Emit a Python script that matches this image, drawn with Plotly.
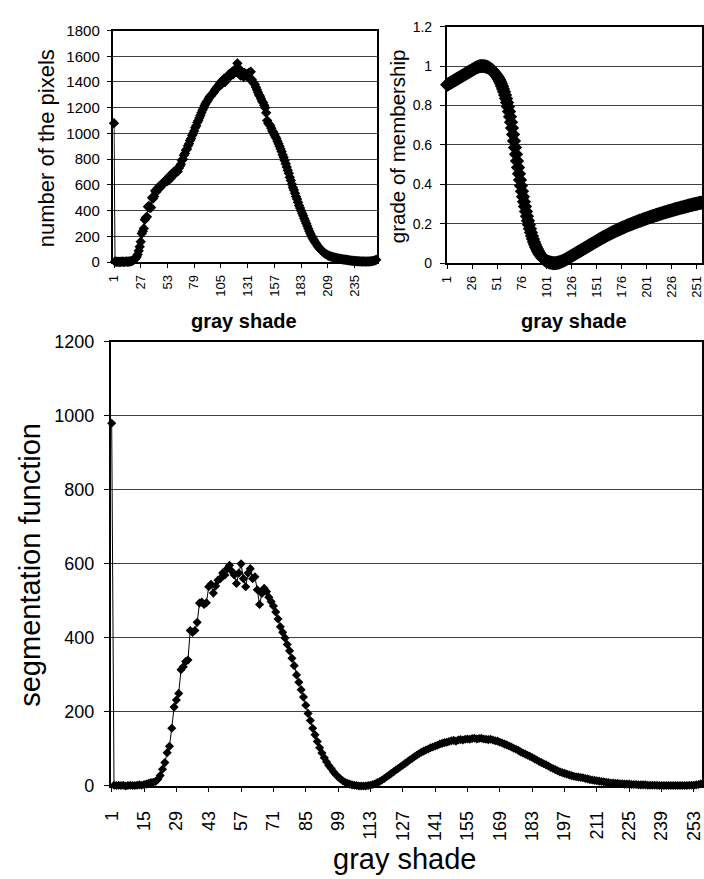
import plotly.graph_objects as go

# ---------------- data ----------------
gray_shade = list(range(1, 257))

pixels = [
    1080, 5, 3, 2, 4, 1, 3, 2, 5, 3, 2, 4, 6, 3, 5, 4,
    7, 9, 12, 16, 22, 30, 42, 60, 88, 120, 158, 222, 240, 262, 330, 345,
    352, 430, 437, 420, 425, 500, 495, 510, 555, 545, 560, 575, 590, 580, 600, 610,
    620, 615, 635, 640, 630, 655, 670, 650, 680, 690, 700, 685, 710, 720, 705, 730,
    745, 760, 790, 800, 830, 845, 870, 880, 905, 920, 945, 960, 985, 1000, 1020, 1045,
    1060, 1085, 1100, 1120, 1140, 1160, 1180, 1195, 1215, 1230, 1245, 1255, 1270, 1285, 1290, 1300,
    1310, 1320, 1335, 1345, 1360, 1355, 1375, 1390, 1400, 1385, 1410, 1425, 1400, 1430, 1440, 1450,
    1460, 1445, 1470, 1480, 1460, 1490, 1500, 1480, 1545, 1470, 1500, 1450, 1480, 1460, 1440, 1470,
    1450, 1460, 1440, 1470, 1430, 1480, 1420, 1400, 1390, 1380, 1360, 1340, 1320, 1300, 1290, 1270,
    1250, 1240, 1220, 1200, 1160, 1100, 1080, 1070, 1060, 1040, 1020, 1010, 990, 975, 960, 940,
    920, 900, 880, 860, 835, 815, 790, 765, 740, 715, 690, 660, 635, 605, 580, 560,
    535, 510, 490, 465, 440, 420, 400, 380, 360, 340, 320, 300, 280, 260, 240, 222,
    205, 190, 175, 162, 150, 138, 125, 115, 106, 98, 90, 82, 75, 68, 63, 58,
    54, 50, 47, 44, 41, 38, 36, 34, 32, 30, 28, 27, 25, 24, 22, 21,
    20, 19, 18, 16, 15, 14, 13, 12, 11, 10, 9, 9, 8, 7, 7, 6,
    6, 5, 5, 6, 5, 4, 5, 6, 5, 6, 7, 8, 10, 12, 14, 18,
]

membership = [
    0.905, 0.908, 0.911, 0.914, 0.917, 0.920, 0.923, 0.926, 0.929, 0.932, 0.935, 0.938, 0.941, 0.944, 0.947, 0.950,
    0.953, 0.956, 0.959, 0.962, 0.965, 0.968, 0.971, 0.974, 0.977, 0.980, 0.983, 0.986, 0.989, 0.992, 0.994, 0.996,
    0.998, 0.999, 1.000, 1.000, 1.000, 0.999, 0.998, 0.997, 0.995, 0.993, 0.990, 0.987, 0.983, 0.979, 0.974, 0.968,
    0.962, 0.955, 0.948, 0.940, 0.931, 0.921, 0.910, 0.898, 0.884, 0.869, 0.853, 0.835, 0.815, 0.793, 0.769, 0.743,
    0.715, 0.685, 0.653, 0.620, 0.586, 0.552, 0.518, 0.485, 0.453, 0.422, 0.392, 0.364, 0.337, 0.311, 0.287, 0.262,
    0.238, 0.215, 0.194, 0.174, 0.155, 0.138, 0.122, 0.107, 0.094, 0.082, 0.071, 0.061, 0.052, 0.044, 0.037, 0.031,
    0.025, 0.020, 0.016, 0.012, 0.009, 0.007, 0.005, 0.003, 0.002, 0.001, 0.000, 0.000, 0.000, 0.000, 0.001, 0.002,
    0.003, 0.005, 0.007, 0.009, 0.011, 0.014, 0.016, 0.019, 0.022, 0.025, 0.028, 0.031, 0.034, 0.037, 0.040, 0.043,
    0.046, 0.049, 0.052, 0.055, 0.058, 0.061, 0.064, 0.067, 0.070, 0.073, 0.076, 0.079, 0.082, 0.085, 0.088, 0.091,
    0.094, 0.097, 0.100, 0.103, 0.106, 0.109, 0.112, 0.115, 0.118, 0.121, 0.124, 0.127, 0.130, 0.132, 0.135, 0.138,
    0.141, 0.143, 0.146, 0.149, 0.151, 0.154, 0.156, 0.159, 0.161, 0.164, 0.166, 0.168, 0.171, 0.173, 0.175, 0.178,
    0.180, 0.182, 0.184, 0.186, 0.189, 0.191, 0.193, 0.195, 0.197, 0.199, 0.201, 0.203, 0.205, 0.207, 0.209, 0.211,
    0.213, 0.215, 0.216, 0.218, 0.220, 0.222, 0.224, 0.226, 0.227, 0.229, 0.231, 0.233, 0.234, 0.236, 0.238, 0.239,
    0.241, 0.243, 0.244, 0.246, 0.248, 0.249, 0.251, 0.252, 0.254, 0.256, 0.257, 0.259, 0.260, 0.262, 0.263, 0.265,
    0.266, 0.268, 0.269, 0.271, 0.272, 0.274, 0.275, 0.276, 0.278, 0.279, 0.281, 0.282, 0.283, 0.285, 0.286, 0.287,
    0.289, 0.290, 0.291, 0.293, 0.294, 0.295, 0.296, 0.298, 0.299, 0.300, 0.301, 0.302, 0.304, 0.305, 0.306, 0.307,
]

segmentation = [
    980, 2, 1, 2, 1, 2, 0, 1, 2, 1, 1, 2, 3, 2, 4, 5,
    7, 9, 10, 12, 18, 28, 45, 63, 90, 107, 156, 213, 232, 250, 314, 322,
    336, 340, 420, 415, 420, 442, 494, 497, 490, 495, 538, 545, 521, 540, 556, 560,
    575, 570, 587, 596, 580, 570, 547, 575, 600, 560, 538, 575, 587, 560, 565, 530,
    490, 520, 534, 525, 510, 498, 486, 470, 451, 430, 415, 400, 382, 365, 345, 325,
    300, 280, 260, 240, 218, 196, 177, 156, 138, 120, 103, 89, 76, 65, 55, 47,
    38, 31, 24, 19, 14, 10, 7, 5, 3, 2, 1, 0, 0, 0, 0, 1,
    2, 4, 6, 9, 12, 16, 20, 25, 29, 34, 38, 43, 47, 52, 56, 61,
    65, 70, 74, 79, 83, 87, 91, 94, 97, 100, 103, 105, 108, 110, 113, 115,
    117, 118, 120, 122, 123, 121, 124, 125, 124, 126, 127, 126, 128, 129, 127, 128,
    129, 127, 126, 125, 126, 124, 122, 121, 118, 116, 113, 111, 108, 105, 102, 99,
    96, 92, 89, 86, 83, 80, 77, 73, 70, 66, 63, 60, 57, 54, 50, 47,
    44, 41, 38, 36, 34, 32, 30, 28, 26, 25, 24, 23, 22, 20, 19, 17,
    16, 15, 14, 13, 12, 11, 10, 9, 8, 8, 7, 7, 6, 6, 5, 5,
    5, 4, 4, 4, 3, 3, 3, 3, 2, 2, 2, 2, 2, 1, 1, 1,
    1, 1, 1, 1, 1, 1, 1, 1, 1, 1, 2, 2, 2, 3, 4, 6,
]

ticks_pixels = [1, 27, 53, 79, 105, 131, 157, 183, 209, 235]
ticks_membership = [1, 26, 51, 76, 101, 126, 151, 176, 201, 226, 251]
ticks_segmentation = [1, 15, 29, 43, 57, 71, 85, 99, 113, 127, 141, 155, 169, 183, 197, 211, 225, 239, 253]

# ---------------- layout helpers ----------------
W, H = 704, 879
FONT = "Liberation Sans, Arial, sans-serif"


def px(x):
    return x / W


def py(y):
    return 1 - y / H


GRID = "#404040"

fig = go.Figure()

fig.add_trace(go.Scatter(
    x=gray_shade, y=pixels, mode="lines+markers",
    line=dict(color="black", width=1),
    marker=dict(symbol="diamond", size=8, color="black"),
    cliponaxis=False, xaxis="x", yaxis="y", hoverinfo="x+y"))

fig.add_trace(go.Scatter(
    x=gray_shade, y=membership, mode="lines+markers",
    line=dict(color="black", width=1),
    marker=dict(symbol="diamond", size=11, color="black"),
    cliponaxis=False, xaxis="x2", yaxis="y2", hoverinfo="x+y"))

fig.add_trace(go.Scatter(
    x=gray_shade, y=segmentation, mode="lines+markers",
    line=dict(color="black", width=1),
    marker=dict(symbol="diamond", size=7, color="black"),
    cliponaxis=False, xaxis="x3", yaxis="y3", hoverinfo="x+y"))


def xax(domain, ticks, anchor, size, standoff):
    return dict(domain=domain, anchor=anchor, range=[0.5, 256.5],
                tickmode="array", tickvals=ticks, ticktext=[str(t) for t in ticks],
                tickangle=-90, showgrid=False, zeroline=False,
                showline=True, mirror=True, linecolor="black", linewidth=1.5,
                ticks="outside", ticklen=4, tickcolor="black",
                ticklabelstandoff=standoff,
                tickfont=dict(family=FONT, size=size, color="black"))


def yax(domain, rng, dtick, anchor, size, standoff):
    return dict(domain=domain, anchor=anchor, range=rng, dtick=dtick,
                showgrid=True, gridcolor=GRID, gridwidth=1.2, zeroline=False,
                showline=True, mirror=True, linecolor="black", linewidth=1.5,
                ticks="outside", ticklen=5, tickcolor="black",
                ticklabelstandoff=standoff,
                tickfont=dict(family=FONT, size=size, color="black"))


fig.update_layout(
    width=W, height=H,
    margin=dict(l=0, r=0, t=0, b=0),
    paper_bgcolor="white", plot_bgcolor="white",
    showlegend=False,
    font=dict(family=FONT, color="black"),
    xaxis=xax([px(106), px(373)], ticks_pixels, "y", 13, 2),
    yaxis=yax([py(258), py(21)], [0, 1800], 200, "x", 15, 4),
    xaxis2=xax([px(444), px(703)], ticks_membership, "y2", 13, 2),
    yaxis2=yax([py(259), py(17)], [0, 1.2], 0.2, "x2", 14, 5),
    xaxis3=xax([px(103), px(703)], ticks_segmentation, "y3", 18, 12),
    yaxis3=yax([py(794), py(339.5)], [0, 1200], 200, "x3", 18, 6),
)

annotations = [
    dict(text="number of the pixels", x=px(38), y=py(141), textangle=-90, size=22, bold=False),
    dict(text="grade of membership", x=px(394), y=py(139), textangle=-90, size=20.5, bold=False),
    dict(text="gray shade", x=px(238), y=py(318), textangle=0, size=20, bold=True),
    dict(text="gray shade", x=px(573), y=py(318), textangle=0, size=20, bold=True),
    dict(text="segmentation function", x=px(21), y=py(568), textangle=-90, size=29, bold=False),
    dict(text="gray shade", x=px(402), y=py(869), textangle=0, size=29, bold=False),
]
for a in annotations:
    fig.add_annotation(
        text=("<b>%s</b>" % a["text"]) if a["bold"] else a["text"],
        x=a["x"], y=a["y"], xref="paper", yref="paper",
        xanchor="center", yanchor="middle", textangle=a["textangle"],
        showarrow=False, font=dict(family=FONT, size=a["size"], color="black"))

fig.write_html("out.html")
